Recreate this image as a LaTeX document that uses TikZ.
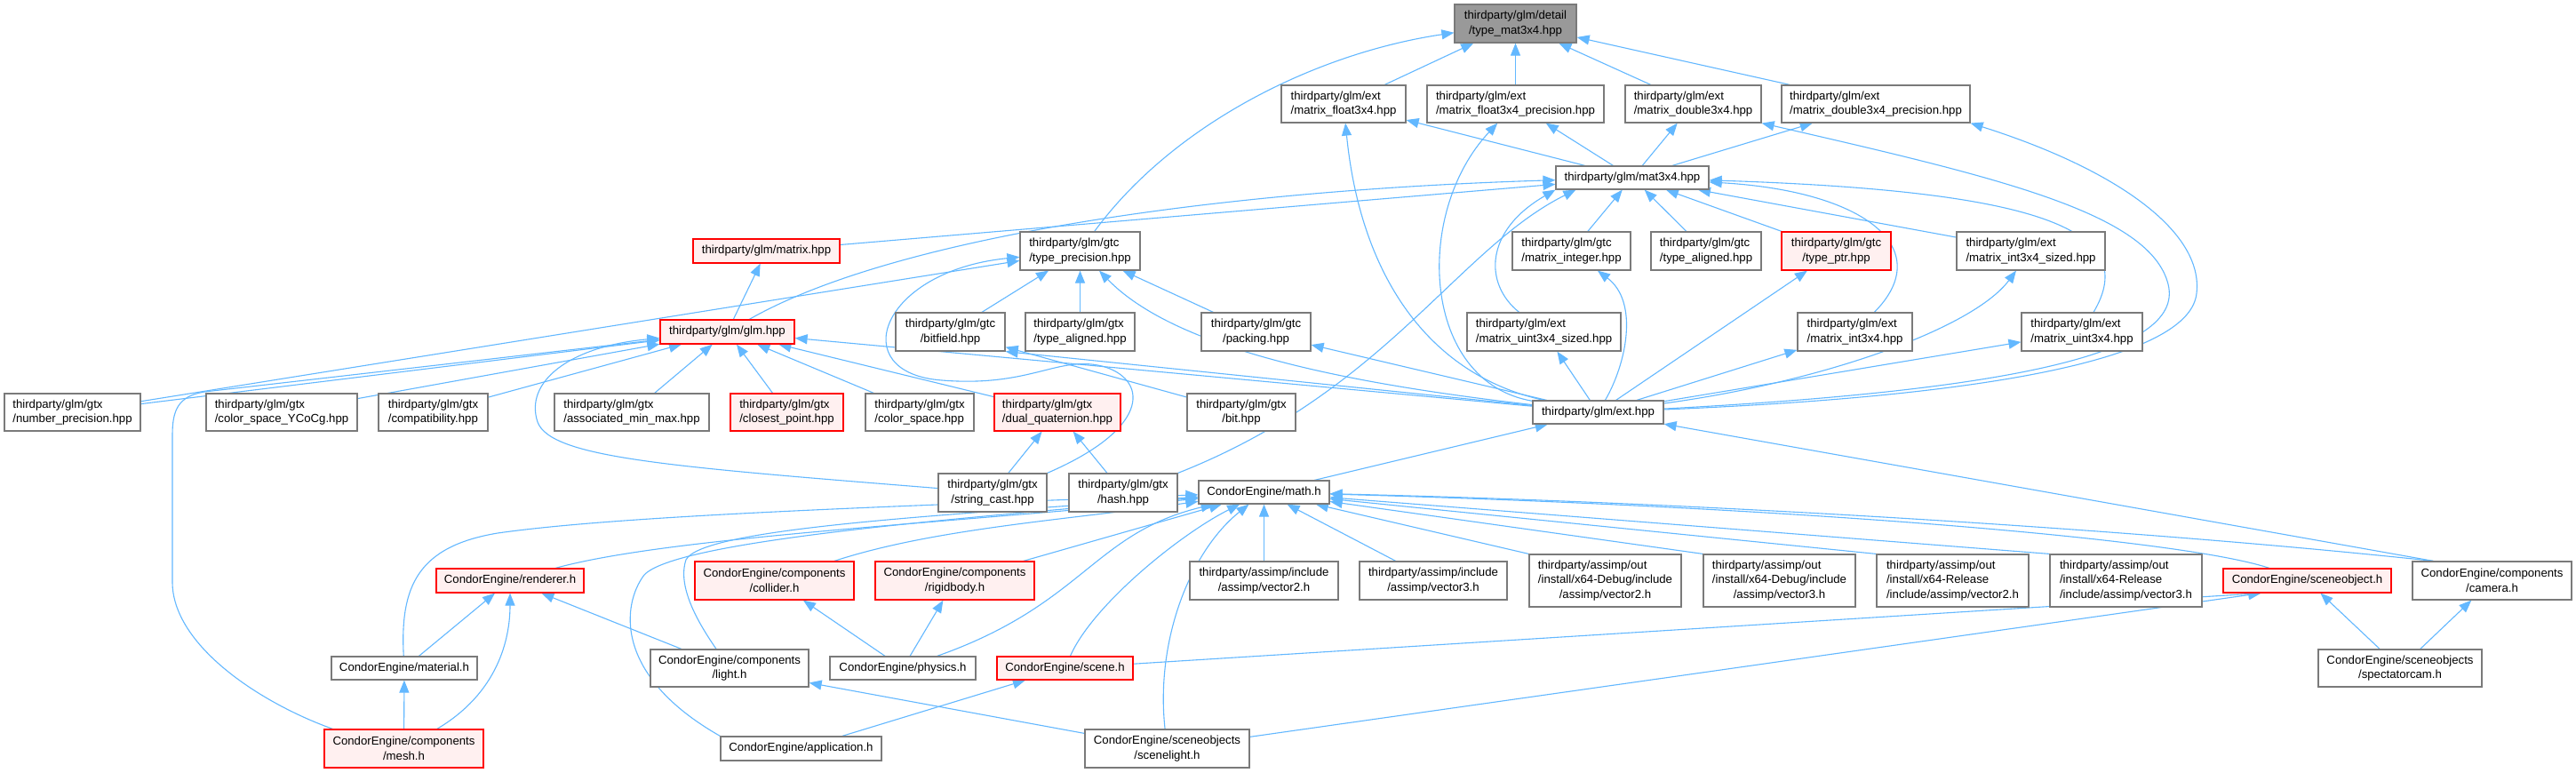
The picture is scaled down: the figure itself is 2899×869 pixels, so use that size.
\documentclass[tikz,border=0pt]{standalone}
\usepackage{fontspec}
\newfontfamily\lsans{Liberation Sans}
\usetikzlibrary{arrows.meta,calc,backgrounds}
\definecolor{edgec}{HTML}{63B8FF}
\definecolor{bordc}{HTML}{7A7A7A}
\definecolor{rootf}{HTML}{999999}
\definecolor{redb}{HTML}{FF0000}
\definecolor{pinkf}{HTML}{FFF0F0}
\newcommand\nfont{\lsans\fontsize{6.6}{8.35}\selectfont}
\tikzset{
  nd/.style={draw=bordc, fill=white, line width=0.6pt, inner sep=0pt, font=\nfont},
  rn/.style={nd, draw=redb, fill=pinkf},
  sz/.style 2 args={minimum width=#1, minimum height=#2},
  e/.style={draw=edgec, line width=0.55pt, >={Triangle[length=7pt,width=5.5pt]}, <-}
}
\begin{document}
\begin{tikzpicture}[x=0.5pt,y=-0.5pt]
\useasboundingbox (0,0) rectangle (2899,869);
% ---------- nodes ----------
\node[nd,sz={68.5pt}{21.5pt},fill=rootf,align=center] (root) at (1705.5,26.5) {thirdparty/glm/detail\\/type\_mat3x4.hpp};
\node[nd,sz={70pt}{21pt},align=left] (mf34) at (1512,117) {thirdparty/glm/ext\\/matrix\_float3x4.hpp};
\node[nd,sz={99.5pt}{21pt},align=left] (mf34p) at (1705.5,117) {thirdparty/glm/ext\\/matrix\_float3x4\_precision.hpp};
\node[nd,sz={76.5pt}{21pt},align=left] (md34) at (1905.5,117) {thirdparty/glm/ext\\/matrix\_double3x4.hpp};
\node[nd,sz={106pt}{21pt},align=left] (md34p) at (2111,117) {thirdparty/glm/ext\\/matrix\_double3x4\_precision.hpp};
\node[nd,sz={86pt}{13pt}] (mat34) at (1837,200) {thirdparty/glm/mat3x4.hpp};
\node[rn,sz={82.5pt}{13.5pt}] (matrix) at (862.5,282.5) {thirdparty/glm/matrix.hpp};
\node[nd,sz={67.5pt}{21.5pt},align=left] (tprec) at (1215.5,282.5) {thirdparty/glm/gtc\\/type\_precision.hpp};
\node[nd,sz={66.5pt}{21.5pt},align=left] (mint) at (1768.5,282.5) {thirdparty/glm/gtc\\/matrix\_integer.hpp};
\node[nd,sz={62pt}{21.5pt},align=left] (talg) at (1920,282.5) {thirdparty/glm/gtc\\/type\_aligned.hpp};
\node[rn,sz={61.5pt}{21.5pt},align=center] (tptr) at (2066.5,282.5) {thirdparty/glm/gtc\\/type\_ptr.hpp};
\node[nd,sz={83.5pt}{21.5pt},align=left] (mi34s) at (2285.5,282.5) {thirdparty/glm/ext\\/matrix\_int3x4\_sized.hpp};
\node[rn,sz={75.5pt}{13.5pt}] (glm) at (818.5,373.5) {thirdparty/glm/glm.hpp};
\node[nd,sz={61.5pt}{21.5pt},align=center] (bitf) at (1069.5,373.5) {thirdparty/glm/gtc\\/bitfield.hpp};
\node[nd,sz={61.5pt}{21.5pt},align=left] (gtxalg) at (1215.5,373.5) {thirdparty/glm/gtx\\/type\_aligned.hpp};
\node[nd,sz={61.5pt}{21.5pt},align=center] (pack) at (1413.5,373.5) {thirdparty/glm/gtc\\/packing.hpp};
\node[nd,sz={86.5pt}{21.5pt},align=left] (mu34s) at (1737.5,373.5) {thirdparty/glm/ext\\/matrix\_uint3x4\_sized.hpp};
\node[nd,sz={64.5pt}{21.5pt},align=left] (mi34) at (2087.5,373.5) {thirdparty/glm/ext\\/matrix\_int3x4.hpp};
\node[nd,sz={68pt}{21.5pt},align=left] (mu34) at (2343,373.5) {thirdparty/glm/ext\\/matrix\_uint3x4.hpp};
\node[nd,sz={76.5pt}{21pt},align=left] (nprec) at (81.5,464) {thirdparty/glm/gtx\\/number\_precision.hpp};
\node[nd,sz={85pt}{21pt},align=left] (ycocg) at (317,464) {thirdparty/glm/gtx\\/color\_space\_YCoCg.hpp};
\node[nd,sz={61.5pt}{21pt},align=left] (compat) at (487.5,464) {thirdparty/glm/gtx\\/compatibility.hpp};
\node[nd,sz={87pt}{21pt},align=left] (assoc) at (711,464) {thirdparty/glm/gtx\\/associated\_min\_max.hpp};
\node[rn,sz={63.5pt}{21pt},align=left] (closest) at (885.5,464) {thirdparty/glm/gtx\\/closest\_point.hpp};
\node[nd,sz={61pt}{21pt},align=left] (cspace) at (1035,464) {thirdparty/glm/gtx\\/color\_space.hpp};
\node[rn,sz={71pt}{21pt},align=left] (dualq) at (1190,464) {thirdparty/glm/gtx\\/dual\_quaternion.hpp};
\node[nd,sz={61pt}{21pt},align=center] (bit) at (1397,464) {thirdparty/glm/gtx\\/bit.hpp};
\node[nd,sz={73.5pt}{13pt}] (ext) at (1798.5,464) {thirdparty/glm/ext.hpp};
\node[nd,sz={61pt}{21.5pt},align=center] (strc) at (1117,554.5) {thirdparty/glm/gtx\\/string\_cast.hpp};
\node[nd,sz={61pt}{21.5pt},align=center] (hash) at (1264,554.5) {thirdparty/glm/gtx\\/hash.hpp};
\node[nd,sz={73.5pt}{13pt}] (math) at (1422.5,554) {CondorEngine/math.h};
\node[rn,sz={83pt}{13.5pt}] (rend) at (574,653.5) {CondorEngine/renderer.h};
\node[rn,sz={89.5pt}{21.5pt},align=center] (coll) at (871.5,653.5) {CondorEngine/components\\/collider.h};
\node[rn,sz={89.5pt}{21.5pt},align=center] (rigid) at (1074.5,653.5) {CondorEngine/components\\/rigidbody.h};
\node[nd,sz={83.5pt}{21.5pt},align=center] (av2) at (1422.5,653.5) {thirdparty/assimp/include\\/assimp/vector2.h};
\node[nd,sz={83pt}{21.5pt},align=center] (av3) at (1613,653.5) {thirdparty/assimp/include\\/assimp/vector3.h};
\node[nd,sz={85.5pt}{29.5pt}] (dv2) at (1806.5,653.5) {\begin{tabular}{@{}l@{}}thirdparty/assimp/out\\/install/x64-Debug/include\\\multicolumn{1}{@{}c@{}}{/assimp/vector2.h}\end{tabular}};
\node[nd,sz={85.5pt}{29.5pt}] (dv3) at (2002.5,653.5) {\begin{tabular}{@{}l@{}}thirdparty/assimp/out\\/install/x64-Debug/include\\\multicolumn{1}{@{}c@{}}{/assimp/vector3.h}\end{tabular}};
\node[nd,sz={85.5pt}{29.5pt},align=left] (rv2) at (2197.5,653.5) {thirdparty/assimp/out\\/install/x64-Release\\/include/assimp/vector2.h};
\node[nd,sz={85.5pt}{29.5pt},align=left] (rv3) at (2392.5,653.5) {thirdparty/assimp/out\\/install/x64-Release\\/include/assimp/vector3.h};
\node[rn,sz={94.5pt}{13.5pt}] (sobj) at (2596.5,653.5) {CondorEngine/sceneobject.h};
\node[nd,sz={89.5pt}{21.5pt},align=center] (cam) at (2804.5,653.5) {CondorEngine/components\\/camera.h};
\node[nd,sz={82pt}{13pt}] (mat) at (455,752) {CondorEngine/material.h};
\node[nd,sz={89pt}{21pt},align=center] (light) at (821,752) {CondorEngine/components\\/light.h};
\node[nd,sz={82pt}{13pt}] (phys) at (1016,752) {CondorEngine/physics.h};
\node[rn,sz={76.5pt}{13pt}] (scene) at (1198.5,752) {CondorEngine/scene.h};
\node[nd,sz={92pt}{21pt},align=center] (spec) at (2701,752) {CondorEngine/sceneobjects\\/spectatorcam.h};
\node[rn,sz={89.5pt}{21.5pt},align=center] (mesh) at (454.5,842.5) {CondorEngine/components\\/mesh.h};
\node[nd,sz={90.5pt}{13.5pt}] (app) at (901.5,842.5) {CondorEngine/application.h};
\node[nd,sz={92.5pt}{21.5pt},align=center] (slight) at (1313.5,842.5) {CondorEngine/sceneobjects\\/scenelight.h};
% ---------- edges ----------
\begin{pgfonlayer}{background}
\fill[white] (0,0) rectangle (2899,869);
\draw[e] (root) -- (mf34);
\draw[e] (root) -- (mf34p);
\draw[e] (root) -- (md34);
\draw[e] (root) -- (md34p);
\draw[e] (root) .. controls (1480,60) and (1320,140) .. (tprec);
\draw[e] (mf34) -- (mat34);
\draw[e] (mf34p) -- (mat34);
\draw[e] (md34) -- (mat34);
\draw[e] (md34p) -- (mat34);
\draw[e] (mf34) .. controls (1530,300) and (1600,420) .. (ext);
\draw[e] (mf34p) .. controls (1590,240) and (1600,430) .. (ext);
\draw[e] (md34.south east) .. controls (2250,200) and (2420,240) .. (2440,320) .. controls (2460,400) and (2250,440) .. (ext);
\draw[e] (md34p.south east) .. controls (2380,190) and (2480,260) .. (2472,330) .. controls (2465,400) and (2260,445) .. (ext);
\draw[e] (mat34) -- (matrix);
\draw[e] (mat34) .. controls (1350,215) and (1000,270) .. (glm);
\draw[e] (mat34) -- (mint);
\draw[e] (mat34) -- (talg);
\draw[e] (mat34) -- (tptr);
\draw[e] (mat34) -- (mi34s);
\draw[e] (mat34.south west) .. controls (1670,260) and (1670,320) .. (mu34s);
\draw[e] ($(mat34.south west)+(23,0)$) .. controls (1640,280) and (1560,440) .. (hash.north east);
\draw[e] (mat34) .. controls (2100,215) and (2180,280) .. (mi34);
\draw[e] (mat34) .. controls (2300,215) and (2410,260) .. (mu34);
\draw[e] (mint) .. controls (1845,340) and (1830,410) .. (ext);
\draw[e] (tptr) -- (ext);
\draw[e] (mu34s) -- (ext);
\draw[e] (mi34) -- (ext);
\draw[e] (mi34s) .. controls (2220,370) and (2050,430) .. (ext);
\draw[e] (mu34) -- (ext);
\draw[e] (tprec) .. controls (1320,390) and (1500,430) .. (ext);
\draw[e] (bitf.south east) -- (ext);
\draw[e] (glm) -- (ext);
\draw[e] (pack) -- (ext);
\draw[e] (tprec) -- (bitf);
\draw[e] (tprec) -- (gtxalg);
\draw[e] (tprec) -- (pack);
\draw[e] (tprec) -- (nprec);
\draw[e] (tprec) .. controls (990,305) and (950,420) .. (1060,428) .. controls (1160,436) and (1190,400) .. (1240,412) .. controls (1290,425) and (1300,480) .. (strc.north east);
\draw[e] (matrix) -- (glm);
\draw[e] (glm) -- (nprec);
\draw[e] (glm) -- (ycocg);
\draw[e] (glm) -- (compat);
\draw[e] (glm) -- (assoc);
\draw[e] (glm) -- (closest);
\draw[e] (glm) -- (cspace);
\draw[e] (glm) -- (dualq);
\draw[e] (glm) .. controls (640,390) and (590,430) .. (605,475) .. controls (620,515) and (750,525) .. (strc);
\draw[e] (glm) -- (230,441) .. controls (200,446) and (194,462) .. (194,490) -- (194,655) .. controls (194,725) and (290,790) .. ($(mesh.north west)+(10,0)$);
\draw[e] (dualq) -- (strc);
\draw[e] (dualq) -- (hash);
\draw[e] (bitf) -- (bit);
\draw[e] (ext) -- (math);
\draw[e] (ext) -- ($(cam.north west)+(24,0)$);
\draw[e] (math) .. controls (1050,590) and (750,605) .. (rend);
\draw[e] (math) .. controls (1200,585) and (1050,595) .. (coll);
\draw[e] (math) -- (rigid);
\draw[e] (math) -- (av2);
\draw[e] (math) -- (av3);
\draw[e] (math) -- (dv2.north west);
\draw[e] (math) -- (dv3.north west);
\draw[e] (math) -- (rv2.north west);
\draw[e] (math) -- (rv3.north west);
\draw[e] (math) .. controls (2000,570) and (2450,605) .. (sobj);
\draw[e] (math) .. controls (1900,565) and (2400,595) .. ($(cam.north west)+(24,0)$);
\draw[e] (math) .. controls (1000,570) and (700,580) .. (560,600) .. controls (470,615) and (450,660) .. (mat);
\draw[e] (math) .. controls (1050,580) and (790,595) .. (772,630) .. controls (762,660) and (785,700) .. (light);
\draw[e] (math) .. controls (1050,585) and (760,610) .. (725,647) .. controls (700,680) and (690,760) .. (app.north west);
\draw[e] (math) .. controls (1230,600) and (1220,680) .. (phys);
\draw[e] (math) .. controls (1330,600) and (1230,680) .. (scene);
\draw[e] (math) .. controls (1340,620) and (1300,720) .. (slight);
\draw[e] (rend) -- (mat);
\draw[e] (rend) .. controls (574,720) and (560,780) .. (mesh);
\draw[e] (rend) -- (light);
\draw[e] (mat) -- (mesh);
\draw[e] (coll) -- (phys);
\draw[e] (rigid) -- (phys);
\draw[e] (scene) -- (app);
\draw[e] (light) -- (slight);
\draw[e] ($(sobj.south west)+(43,0)$) -- (slight);
\draw[e] ($(sobj.south west)+(43,0)$) -- (scene);
\draw[e] (sobj) -- (spec);
\draw[e] (cam) -- (spec);
\end{pgfonlayer}
\end{tikzpicture}
\end{document}
